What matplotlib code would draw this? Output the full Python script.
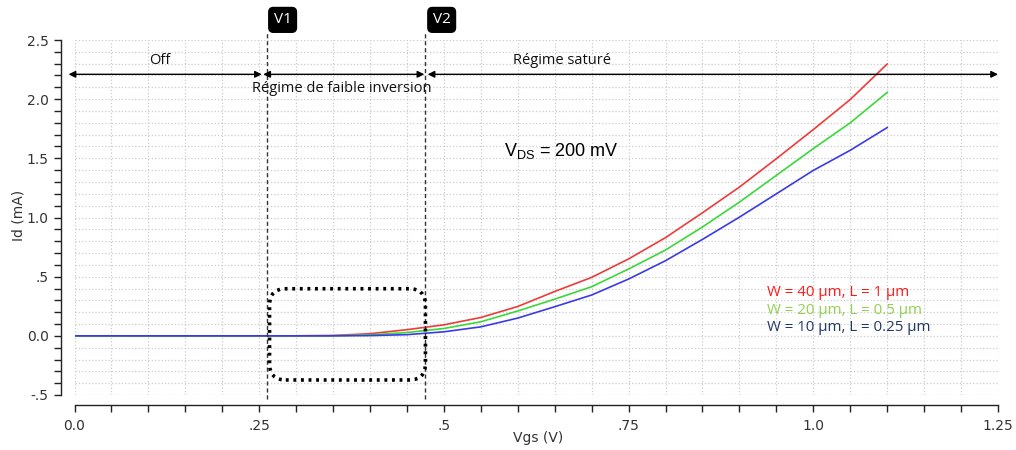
import matplotlib
matplotlib.use("Agg")
import matplotlib.pyplot as plt
import numpy as np
from matplotlib.patches import FancyBboxPatch
from matplotlib.ticker import MultipleLocator, FixedLocator, FixedFormatter

plt.rcParams['mathtext.fontset'] = 'custom'
plt.rcParams['mathtext.rm'] = 'Liberation Sans'

# ---- data ----
vgs = [0.00, 0.05, 0.10, 0.15, 0.20, 0.25, 0.30, 0.35, 0.40, 0.45, 0.50, 0.55,
       0.60, 0.65, 0.70, 0.75, 0.80, 0.85, 0.90, 0.95, 1.00, 1.05, 1.10]
id_w40 = [0, 0, 0, 0, 0, 0, 0, 0.003, 0.018, 0.052, 0.093, 0.155,
          0.248, 0.375, 0.494, 0.650, 0.830, 1.040, 1.257, 1.497, 1.743, 1.997, 2.297]
id_w20 = [0, 0, 0, 0, 0, 0, 0, 0.001, 0.008, 0.028, 0.062, 0.119,
          0.210, 0.310, 0.415, 0.565, 0.725, 0.920, 1.130, 1.356, 1.582, 1.800, 2.057]
id_w10 = [0, 0, 0, 0, 0, 0, 0, 0.000, 0.002, 0.010, 0.034, 0.076,
          0.150, 0.246, 0.345, 0.480, 0.635, 0.815, 1.003, 1.200, 1.398, 1.568, 1.760]
series_labels = ["W = 40 µm, L = 1 µm", "W = 20 µm, L = 0.5 µm", "W = 10 µm, L = 0.25 µm"]

x_ticks = [0.0, 0.25, 0.5, 0.75, 1.0, 1.25]
x_ticklabels = ["0.0", ".25", ".5", ".75", "1.0", "1.25"]
y_ticks = [-0.5, 0.0, 0.5, 1.0, 1.5, 2.0, 2.5]
y_ticklabels = ["-.5", "0.0", ".5", "1.0", "1.5", "2.0", "2.5"]

v1, v2 = 0.26, 0.475
region_labels = ["Off", "Régime de faible inversion", "Régime saturé"]

# ---- figure ----
W, H = 1016, 450
fig = plt.figure(figsize=(W / 100, H / 100), dpi=100)
ax = fig.add_axes([74.5 / W, 1 - 395 / H, 923.5 / W, 355 / H])
ax.set_xlim(0, 1.25)
ax.set_ylim(-0.5, 2.5)

# grid
ax.xaxis.set_minor_locator(MultipleLocator(0.05))
ax.yaxis.set_minor_locator(MultipleLocator(0.1))
ax.grid(which='both', color='#cccccc', linestyle=':', linewidth=0.9)
ax.set_axisbelow(True)

# spines
for s in ['top', 'right']:
    ax.spines[s].set_visible(False)
ax.spines['left'].set_position(('outward', 10))
ax.spines['bottom'].set_position(('outward', 7))
for s in ['left', 'bottom']:
    ax.spines[s].set_color('#222222')
    ax.spines[s].set_linewidth(1.0)

ax.xaxis.set_major_locator(FixedLocator(x_ticks))
ax.xaxis.set_major_formatter(FixedFormatter(x_ticklabels))
ax.yaxis.set_major_locator(FixedLocator(y_ticks))
ax.yaxis.set_major_formatter(FixedFormatter(y_ticklabels))
ax.tick_params(which='both', direction='out', length=5, width=1, color='#222222',
               labelsize=10, labelcolor='#333333')
ax.tick_params(axis='x', which='major', pad=5)

ax.set_xlabel("Vgs (V)", fontsize=10, color='#333333')
ax.xaxis.set_label_coords((538 - 74) / 924, -43 / 355)
ax.set_ylabel("Id (mA)", fontsize=10, color='#333333')
ax.yaxis.set_label_coords((18 - 74) / 924, (395 - 215) / 355)
ax.xaxis.label.set_va('center')
ax.yaxis.label.set_va('center')

# curves
ax.plot(vgs, id_w40, color='#f03a3a', lw=1.2, zorder=3)
ax.plot(vgs, id_w20, color='#3ad83a', lw=1.2, zorder=3)
ax.plot(vgs, id_w10, color='#3a3ae8', lw=1.2, zorder=3)

# vertical markers
for xv, name, xc in [(v1, "V1", 0.2817), (v2, "V2", 0.497)]:
    ax.plot([xv, xv], [-0.534, 2.56], color='#333333', lw=1.0, ls=(0, (3, 2)),
            clip_on=False, zorder=4)
    ax.text(xc, 2.67, name, color='white', fontsize=11, ha='center', va='center',
            family='Open Sans', clip_on=False,
            bbox=dict(boxstyle='round,pad=0.32,rounding_size=0.3', fc='black', ec='black'))

# region arrows
ya = 2.21
arrow_kw = dict(arrowstyle='<|-|>', color='black', lw=1.0, mutation_scale=10,
                shrinkA=0, shrinkB=0)
for x0, x1 in [(-0.008, 0.2535), (0.2555, 0.4735), (0.478, 1.25)]:
    ax.annotate('', xy=(x1, ya), xytext=(x0, ya), arrowprops=arrow_kw,
                annotation_clip=False, zorder=5)
ax.text(0.115, 2.33, region_labels[0], fontsize=10.5, family='Open Sans',
        ha='center', va='center', color='#111111')
ax.text(0.3616, 2.093, region_labels[1], fontsize=10.5, family='Open Sans',
        ha='center', va='center', color='#111111')
ax.text(0.66, 2.33, region_labels[2], fontsize=10.5, family='Open Sans',
        ha='center', va='center', color='#111111')

# VDS label
ax.text(0.582, 1.56, r"V$_\mathrm{DS}$ = 200 mV", fontsize=13,
        family='Liberation Sans', ha='left', va='center', color='black')

# legend as colored text
leg_colors = ['#ff1a1a', '#92d050', '#203864']
for i, (lab, c) in enumerate(zip(series_labels, leg_colors)):
    ax.text(0.9375, 0.365 - i * 0.148, lab, color=c, fontsize=10.8,
            family='Open Sans', ha='left', va='center')

# dotted rounded rectangle
x0b, x1b, y0b, y1b = 0.264, 0.475, -0.373, 0.398
aspect = (924 / 1.25) / (355 / 3.0)
box = FancyBboxPatch((x0b, y0b), x1b - x0b, y1b - y0b,
                     boxstyle='round,pad=0,rounding_size=0.022',
                     mutation_aspect=aspect,
                     fill=False, ec='black', lw=2.6, ls=(0, (0.8, 1.3)), zorder=6)
ax.add_patch(box)

fig.savefig("out.png", dpi=100)
